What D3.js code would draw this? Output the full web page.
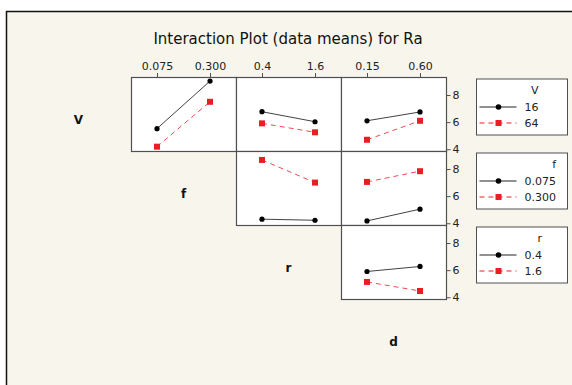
<!DOCTYPE html>
<html>
<head>
<meta charset="utf-8">
<script src="https://cdn.jsdelivr.net/npm/d3@7"></script>
<style>
  body { margin: 0; background: #fff; }
  svg { display: block; font-family: 'DejaVu Sans', Verdana, sans-serif; }
</style>
</head>
<body>
<div id="container"></div>
<script>
//DATA
const title = 'Interaction Plot (data means) for Ra'
const factors = ['V', 'f', 'r', 'd']
const vLevels = ['16', '64']
const fLevels = ['0.075', '0.300']
const rLevels = ['0.4', '1.6']
const dLevels = ['0.15', '0.60']
const yTicks = [4, 6, 8]

//means: rows = levels of the row factor, cols = levels of the column factor
const vByF = [[5.52, 9.03], [4.19, 7.50]]
const vByR = [[6.77, 6.03], [5.91, 5.25]]
const vByD = [[6.10, 6.75], [4.70, 6.10]]
const fByR = [[4.30, 4.22], [8.67, 7.00]]
const fByD = [[4.17, 5.04], [7.05, 7.84]]
const rByD = [[5.90, 6.27], [5.13, 4.46]]

const levelsOf = [vLevels, fLevels, rLevels, dLevels]
const panels = [
    { row: 0, col: 1, means: vByF },
    { row: 0, col: 2, means: vByR },
    { row: 0, col: 3, means: vByD },
    { row: 1, col: 2, means: fByR },
    { row: 1, col: 3, means: fByD },
    { row: 2, col: 3, means: rByD }
]

//BOX
const w = 572
const h = 385
const gx = 26 //grid left
const gy = 77 //grid top
const cw = 105 //cell width
const ch = 74 //cell height
const red = '#ec1c24'
const dark = '#222'
const frameCol = '#505050'

const svg = d3.select('#container')
    .append('svg')
    .attr('width', w)
    .attr('height', h)

//BACKGROUND + FRAME
svg.append('rect')
    .attr('x', 6).attr('y', 11.5)
    .attr('width', w - 6).attr('height', h - 11.5)
    .attr('fill', '#f8f5ec')
svg.append('path')
    .attr('d', `M6.5,${h}V11.5H${w}`)
    .attr('fill', 'none')
    .attr('stroke', '#111')
    .attr('stroke-width', 1.5)

//TITLE
svg.append('text')
    .attr('x', 288).attr('y', 44)
    .attr('text-anchor', 'middle')
    .attr('font-size', 15)
    .attr('fill', '#111')
    .text(title)

//SCALES
const xscales = levelsOf.map((lv, i) => d3.scalePoint()
    .domain(lv)
    .range([gx + i * cw, gx + (i + 1) * cw])
    .padding(0.49))

const yscales = factors.map((f, i) => d3.scaleLinear()
    .domain([3.87, 9.33])
    .range([gy + (i + 1) * ch, gy + i * ch]))

//DIAGONAL LABELS
svg.append('g')
    .selectAll('text')
    .data(factors)
    .enter()
    .append('text')
    .attr('x', (d, i) => gx + i * cw + cw / 2)
    .attr('y', (d, i) => gy + i * ch + ch / 2 + 10)
    .attr('text-anchor', 'middle')
    .attr('font-size', 12)
    .attr('font-weight', 'bold')
    .attr('fill', '#111')
    .text(d => d)

//PANELS
const line = d3.line()

panels.forEach(p => {
    const xs = xscales[p.col]
    const ys = yscales[p.row]
    const g = svg.append('g')
    g.append('rect')
        .attr('x', gx + p.col * cw + 0.5)
        .attr('y', gy + p.row * ch + 0.5)
        .attr('width', cw)
        .attr('height', ch)
        .attr('fill', '#fff')
        .attr('stroke', frameCol)
        .attr('stroke-width', 1.2)

    p.means.forEach((vals, s) => {
        const pts = vals.map((v, k) => [xs(levelsOf[p.col][k]), ys(v)])
        g.append('path')
            .attr('d', line(pts))
            .attr('fill', 'none')
            .attr('stroke', s === 0 ? dark : red)
            .attr('stroke-opacity', s === 0 ? 0.85 : 0.8)
            .attr('stroke-width', 1)
            .attr('stroke-dasharray', s === 0 ? null : '5,4')
        if (s === 0) {
            g.selectAll(null).data(pts).enter().append('circle')
                .attr('cx', d => d[0]).attr('cy', d => d[1])
                .attr('r', 2.6)
                .attr('fill', '#000')
        } else {
            g.selectAll(null).data(pts).enter().append('rect')
                .attr('x', d => d[0] - 3).attr('y', d => d[1] - 3)
                .attr('width', 6).attr('height', 6)
                .attr('fill', red)
        }
    })
})

//TOP AXES
for (let c = 1; c < 4; c++) {
    svg.append('g')
        .attr('transform', 'translate(0,' + gy + ')')
        .call(d3.axisTop(xscales[c]).tickSize(4).tickPadding(3))
        .call(a => a.select('.domain').remove())
        .call(a => a.selectAll('line').attr('stroke', frameCol))
        .call(a => a.selectAll('text').attr('font-size', 11).attr('fill', '#222')
            .attr('font-family', "'DejaVu Sans', Verdana, sans-serif"))
}

//RIGHT AXES
for (let r = 0; r < 3; r++) {
    svg.append('g')
        .attr('transform', 'translate(' + (gx + 4 * cw + 0.5) + ',0)')
        .call(d3.axisRight(yscales[r]).tickValues(yTicks).tickFormat(d3.format('d')).tickSize(4).tickPadding(2))
        .call(a => a.select('.domain').remove())
        .call(a => a.selectAll('line').attr('stroke', frameCol))
        .call(a => a.selectAll('text').attr('font-size', 11).attr('fill', '#222')
            .attr('font-family', "'DejaVu Sans', Verdana, sans-serif"))
}

//LEGENDS
for (let r = 0; r < 3; r++) {
    const top = gy + r * ch + 1.5
    const lg = svg.append('g').attr('transform', 'translate(476.5,' + (top + 0.5) + ')')
    lg.append('rect')
        .attr('width', 91).attr('height', 56)
        .attr('fill', '#fff')
        .attr('stroke', frameCol)
    const labels = lg.selectAll('text.lab')
        .data(levelsOf[r])
        .enter()
        .append('text')
        .attr('class', 'lab')
        .attr('x', 48)
        .attr('y', (d, i) => 28 + i * 16 + 4)
        .attr('font-size', 11)
        .attr('fill', '#222')
        .text(d => d)
    const maxw = d3.max(labels.nodes(), n => n.getComputedTextLength())
    lg.append('text')
        .attr('x', 48 + maxw)
        .attr('y', 14.5)
        .attr('text-anchor', 'end')
        .attr('font-size', 11)
        .attr('fill', '#222')
        .text(factors[r])
    levelsOf[r].forEach((d, i) => {
        const y = 28 + i * 16
        lg.append('line')
            .attr('x1', 3).attr('x2', 40)
            .attr('y1', y).attr('y2', y)
            .attr('stroke', i === 0 ? dark : red)
            .attr('stroke-dasharray', i === 0 ? null : '5,4')
        if (i === 0) {
            lg.append('circle').attr('cx', 22).attr('cy', y).attr('r', 2.8).attr('fill', '#000')
        } else {
            lg.append('rect').attr('x', 19).attr('y', y - 3).attr('width', 6).attr('height', 6).attr('fill', red)
        }
    })
}
</script>
</body>
</html>
